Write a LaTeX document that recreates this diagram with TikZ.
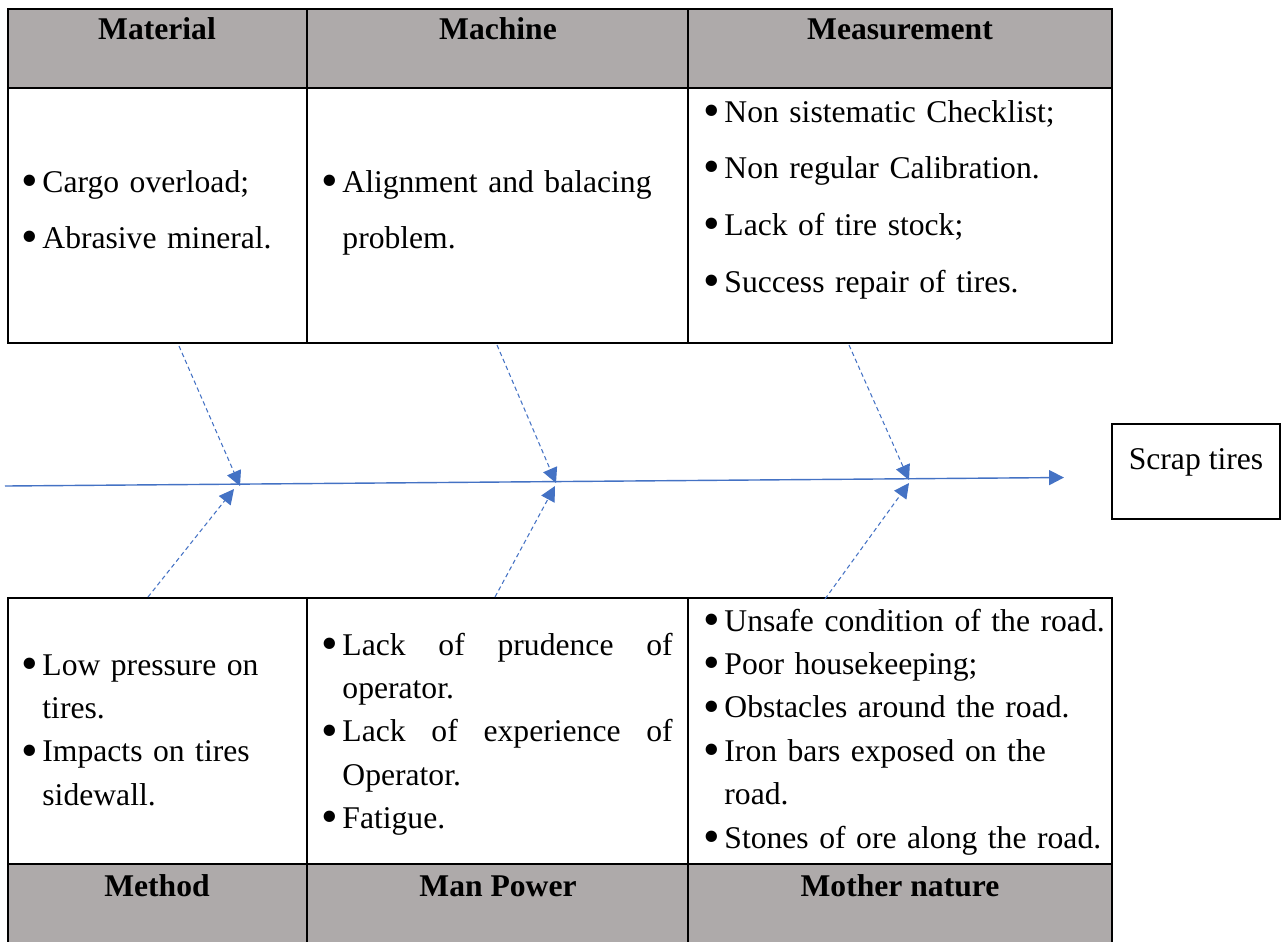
\documentclass[tikz,border=0pt]{standalone}
\usepackage{fontspec}
\setmainfont{Liberation Serif}
\usetikzlibrary{arrows.meta}
\definecolor{fishblue}{HTML}{4472C4}
\definecolor{hdrgray}{HTML}{AEAAAA}
\newcommand{\bl}{\makebox[12pt][l]{\raisebox{-2.3pt}{\scalebox{1.5}{\textbullet}}}}
\newcommand{\ind}{\hspace*{12pt}}
\begin{document}
\begin{tikzpicture}[x=0.02cm,y=-0.02cm,
    grid/.style={line width=1.1pt},
    hdr/.style={anchor=base,inner sep=0pt,font=\bfseries\fontsize{18}{22}\selectfont},
    topcell/.style={anchor=base west,inner sep=0pt,align=left,font=\fontsize{18}{32.3}\selectfont},
    botcell/.style={topcell,font=\fontsize{18}{24.75}\selectfont},
    spine/.style={fishblue,line width=0.8pt,-{Triangle[length=8.5pt,width=8.5pt]}},
    bone/.style={spine,line width=0.6pt,dash pattern=on 2.5pt off 1.8pt},
    outbox/.style={draw,line width=1.1pt,inner sep=0pt,minimum width=95.6pt,minimum height=54pt,
      text height=12.5pt,text depth=15.3pt,font=\fontsize{18}{22}\selectfont}]
  \useasboundingbox (0,0) rectangle (1281,941);
  \fill[hdrgray] (8,9) rectangle (1112,88);
  \fill[hdrgray] (8,864) rectangle (1112,950);
  \draw[grid] (8,9) rectangle (1112,343)
    (8,88) -- (1112,88) (307,9) -- (307,343) (688,9) -- (688,343);
  \draw[grid] (8,950) -- (8,598) -- (1112,598) -- (1112,950)
    (8,864) -- (1112,864) (307,598) -- (307,950) (688,598) -- (688,950);
  \draw
    (157,39) node[hdr] (material) {Material}
    (498,39) node[hdr] (machine) {Machine}
    (900,39) node[hdr] (measurement) {Measurement}
    (157,896) node[hdr] (method) {Method}
    (498,896) node[hdr] (manpower) {Man Power}
    (900,896) node[hdr] (nature) {Mother nature};
  \node[topcell,text width=170pt] (matcell) at (21,192)
    {\bl Cargo overload;\\ \bl Abrasive mineral.};
  \node[topcell,text width=200pt] (maccell) at (321,192)
    {\bl Alignment and balacing\\ \ind problem.};
  \node[topcell,text width=240pt] (meacell) at (703,122)
    {\bl Non sistematic Checklist;\\ \bl Non regular Calibration.\\
     \bl Lack of tire stock;\\ \bl Success repair of tires.};
  \node[botcell,text width=170pt] (metcell) at (21,675)
    {\bl Low pressure on\\ \ind tires.\\ \bl Impacts on tires\\ \ind sidewall.};
  \node[botcell,text width=200pt] (mancell) at (321,655)
    {\bl Lack\hfill of\hfill prudence\hfill of\\ \ind operator.\\
     \bl Lack\hfill of\hfill experience\hfill of\\ \ind Operator.\\ \bl Fatigue.};
  \node[botcell,text width=240pt] (natcell) at (703,631)
    {\bl Unsafe condition of the road.\\ \bl Poor housekeeping;\\
     \bl Obstacles around the road.\\ \bl Iron bars exposed on the\\ \ind road.\\
     \bl Stones of ore along the road.};
  \node[outbox] (scrap) at (1196,471.5) {Scrap tires};
  \path
    (5,486) coordinate (tail)
    (1064,477.5) coordinate (head)
    (179,346) coordinate (t1) (240,486) coordinate (j1t)
    (148,597) coordinate (b1) (234,489) coordinate (j1b)
    (497,345) coordinate (t2) (556,483) coordinate (j2t)
    (495,597) coordinate (b2) (555,486) coordinate (j2b)
    (849,345) coordinate (t3) (909,480) coordinate (j3t)
    (825,599) coordinate (b3) (909,483) coordinate (j3b);
  \draw[spine] (tail) to (head);
  \begin{scope}[bone]
    \draw (t1) to (j1t);
    \draw (b1) to (j1b);
    \draw (t2) to (j2t);
    \draw (b2) to (j2b);
    \draw (t3) to (j3t);
    \draw (b3) to (j3b);
  \end{scope}
\end{tikzpicture}
\end{document}
